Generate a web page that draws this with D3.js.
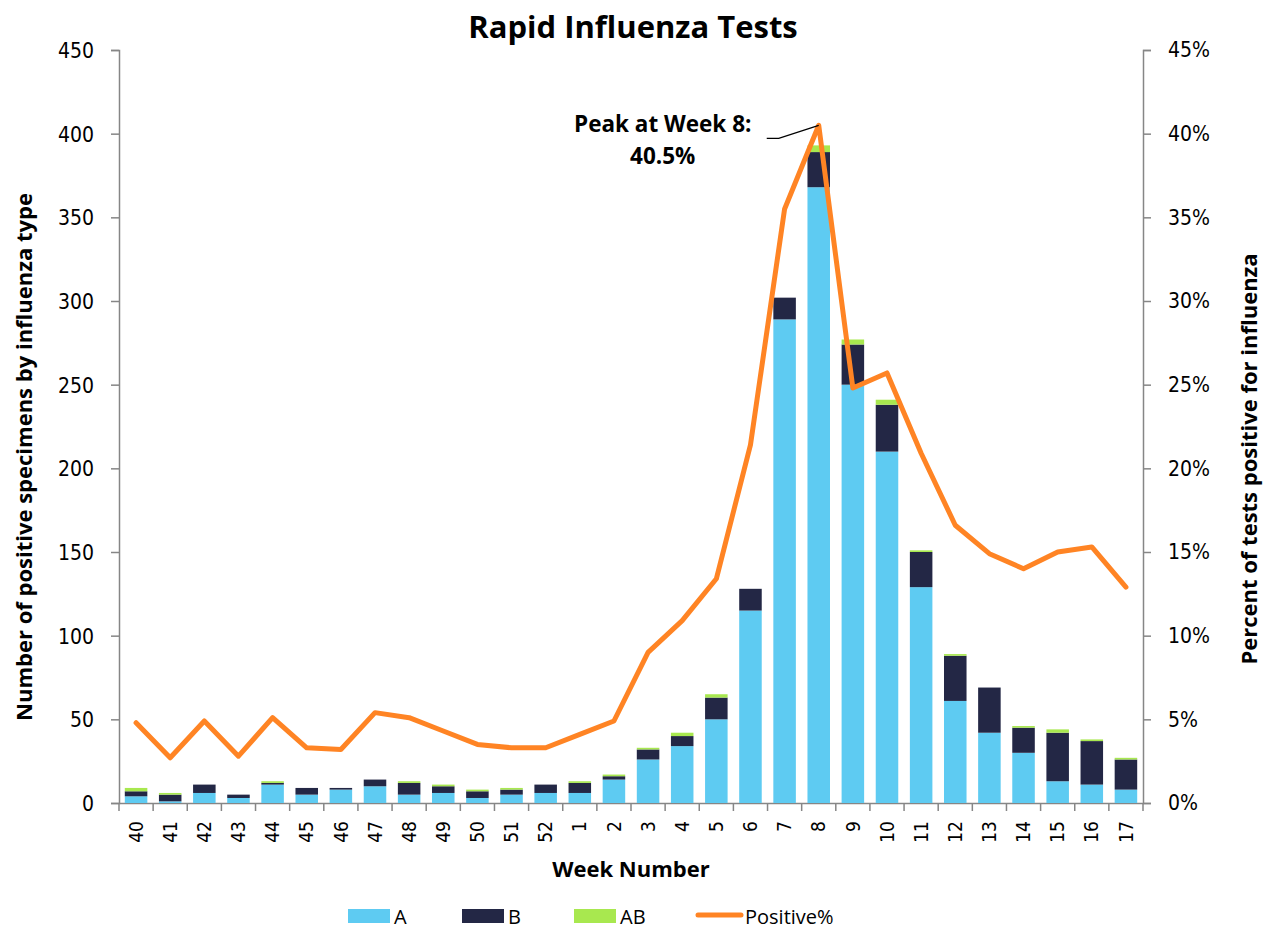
<!DOCTYPE html>
<html>
<head>
<meta charset="utf-8">
<script src="https://cdn.jsdelivr.net/npm/d3@7"></script>
<style>
  body { margin: 0; background: #fff; }
  .tick text { font-family: "DejaVu Sans Condensed", "DejaVu Sans", Verdana, sans-serif; font-size: 21px; fill: #000; }
  .axis path, .axis line { stroke: #868686; stroke-width: 1.5px; }
  .ttl { font-family: "Open Sans", "Liberation Sans", sans-serif; font-weight: bold; fill: #000; }
  .leg { font-family: "Open Sans", "Liberation Sans", sans-serif; font-size: 20px; fill: #000; }
</style>
</head>
<body>
<div id="chart"></div>
<script>
var weeks = ['40','41','42','43','44','45','46','47','48','49','50','51','52','1','2','3','4','5','6','7','8','9','10','11','12','13','14','15','16','17'];
var fluA  = [4, 1, 6, 3, 11, 5, 8, 10, 5, 6, 3, 5, 6, 6, 14, 26, 34, 50, 115, 289, 368, 250, 210, 129, 61, 42, 30, 13, 11, 8];
var fluB  = [3, 4, 5, 2, 1, 4, 1, 4, 7, 4, 4, 3, 5, 6, 2, 6, 6, 13, 13, 13, 21, 24, 28, 21, 27, 27, 15, 29, 26, 18];
var fluAB = [2, 1, 0, 0, 1, 0, 0, 0, 1, 1, 1, 1, 0, 1, 1, 1, 2, 2, 0, 0, 4, 3, 3, 1, 1, 0, 1, 2, 1, 1];
var positivePct = [4.8, 2.7, 4.9, 2.8, 5.1, 3.3, 3.2, 5.4, 5.1, 4.3, 3.5, 3.3, 3.3, 4.1, 4.9, 9.0, 10.9, 13.4, 21.4, 35.5, 40.5, 24.8, 25.7, 20.9, 16.6, 14.9, 14.0, 15.0, 15.3, 12.9];
var leftTicks = [0, 50, 100, 150, 200, 250, 300, 350, 400, 450];
var rightTicks = [0, 5, 10, 15, 20, 25, 30, 35, 40, 45];
var seriesNames = ['A', 'B', 'AB'];
var seriesColors = ['#5ECBF2', '#232745', '#A8E84F'];
var lineColor = '#FF8424';
var peakLabel = ['Peak at Week 8:', '40.5%'];

var margin = {top: 50, right: 124, bottom: 127, left: 119},
    W = 1267, H = 930,
    width = W - margin.left - margin.right,
    height = H - margin.top - margin.bottom;

var svg = d3.select('#chart').append('svg')
    .attr('width', W).attr('height', H);
var g = svg.append('g')
    .attr('transform', 'translate(' + margin.left + ',' + margin.top + ')');

var x = d3.scaleBand().domain(weeks).range([0, width]).paddingInner(0.34).paddingOuter(0.17);
var y = d3.scaleLinear().domain([0, 450]).range([height, 0]);
var y2 = d3.scaleLinear().domain([0, 45]).range([height, 0]);

var rows = weeks.map(function(w, i) { return {week: w, A: fluA[i], B: fluB[i], AB: fluAB[i]}; });
var stacked = d3.stack().keys(seriesNames)(rows);

// axes
g.append('g').attr('class', 'axis')
  .call(d3.axisLeft(y).tickValues(leftTicks).tickSize(8).tickPadding(17))
  .call(function(s) { s.selectAll('.tick text').attr('dy', '0.35em'); });

g.append('g').attr('class', 'axis')
  .attr('transform', 'translate(' + width + ',0)')
  .call(d3.axisRight(y2).tickValues(rightTicks).tickSize(8).tickPadding(17).tickFormat(function(d) { return d + '%'; }));

var xAx = g.append('g').attr('class', 'axis')
  .attr('transform', 'translate(0,' + height + ')')
  .call(d3.axisBottom(x).tickSize(0).tickPadding(0));
xAx.selectAll('.tick text')
  .attr('transform', 'rotate(-90)')
  .attr('x', -18).attr('y', 0).attr('dy', '0.35em')
  .style('text-anchor', 'end')
  .style('font-size', '19px');
// ticks between categories
var step = x.step();
xAx.selectAll('.sep').data(d3.range(weeks.length + 1)).enter()
  .append('line').attr('class', 'sep')
  .attr('x1', function(i) { return i * step; }).attr('x2', function(i) { return i * step; })
  .attr('y1', 0).attr('y2', 8);

// bars
g.append('g').selectAll('g').data(stacked).enter().append('g')
  .attr('fill', function(d, i) { return seriesColors[i]; })
  .selectAll('rect').data(function(d) { return d; }).enter().append('rect')
  .attr('x', function(d) { return x(d.data.week); })
  .attr('width', x.bandwidth())
  .attr('y', function(d) { return y(d[1]); })
  .attr('height', function(d) { return y(d[0]) - y(d[1]); });

// line
var line = d3.line()
  .x(function(d, i) { return x(weeks[i]) + x.bandwidth() / 2; })
  .y(function(d) { return y2(d); });
g.append('path').datum(positivePct)
  .attr('d', line)
  .attr('fill', 'none')
  .attr('stroke', lineColor)
  .attr('stroke-width', 5)
  .attr('stroke-linejoin', 'round')
  .attr('stroke-linecap', 'round');

// peak annotation
var pi = weeks.indexOf('8');
var px = x(weeks[pi]) + x.bandwidth() / 2, py = y2(positivePct[pi]);
g.append('path')
  .attr('d', 'M' + (px - 52) + ',' + (py + 13) + 'L' + (px - 40) + ',' + (py + 13) + 'L' + px + ',' + py)
  .attr('fill', 'none').attr('stroke', '#000').attr('stroke-width', 1.3);
g.append('text').attr('class', 'ttl')
  .attr('x', px - 156).attr('y', py + 7)
  .attr('text-anchor', 'middle').style('font-size', '22.5px')
  .text(peakLabel[0]);
g.append('text').attr('class', 'ttl')
  .attr('x', px - 156).attr('y', py + 39)
  .attr('text-anchor', 'middle').style('font-size', '22.5px')
  .text(peakLabel[1]);

// titles
svg.append('text').attr('class', 'ttl')
  .attr('x', 633).attr('y', 38).attr('text-anchor', 'middle')
  .style('font-size', '31px').text('Rapid Influenza Tests');
svg.append('text').attr('class', 'ttl')
  .attr('x', 631).attr('y', 877).attr('text-anchor', 'middle')
  .style('font-size', '22px').text('Week Number');
svg.append('text').attr('class', 'ttl')
  .attr('transform', 'translate(32,457) rotate(-90)').attr('text-anchor', 'middle')
  .style('font-size', '22px').text('Number of positive specimens by influenza type');
svg.append('text').attr('class', 'ttl')
  .attr('transform', 'translate(1257,459) rotate(-90)').attr('text-anchor', 'middle')
  .style('font-size', '22px').text('Percent of tests positive for influenza');

// legend
var legX = [348, 462, 574];
seriesNames.forEach(function(n, i) {
  svg.append('rect').attr('x', legX[i]).attr('y', 909).attr('width', 42).attr('height', 14)
    .attr('fill', seriesColors[i]);
  svg.append('text').attr('class', 'leg').attr('x', legX[i] + 46).attr('y', 924).text(n);
});
svg.append('line').attr('x1', 698).attr('x2', 741).attr('y1', 915).attr('y2', 915)
  .attr('stroke', lineColor).attr('stroke-width', 5).attr('stroke-linecap', 'round');
svg.append('text').attr('class', 'leg').attr('x', 745).attr('y', 924).text('Positive%');
</script>
</body>
</html>
